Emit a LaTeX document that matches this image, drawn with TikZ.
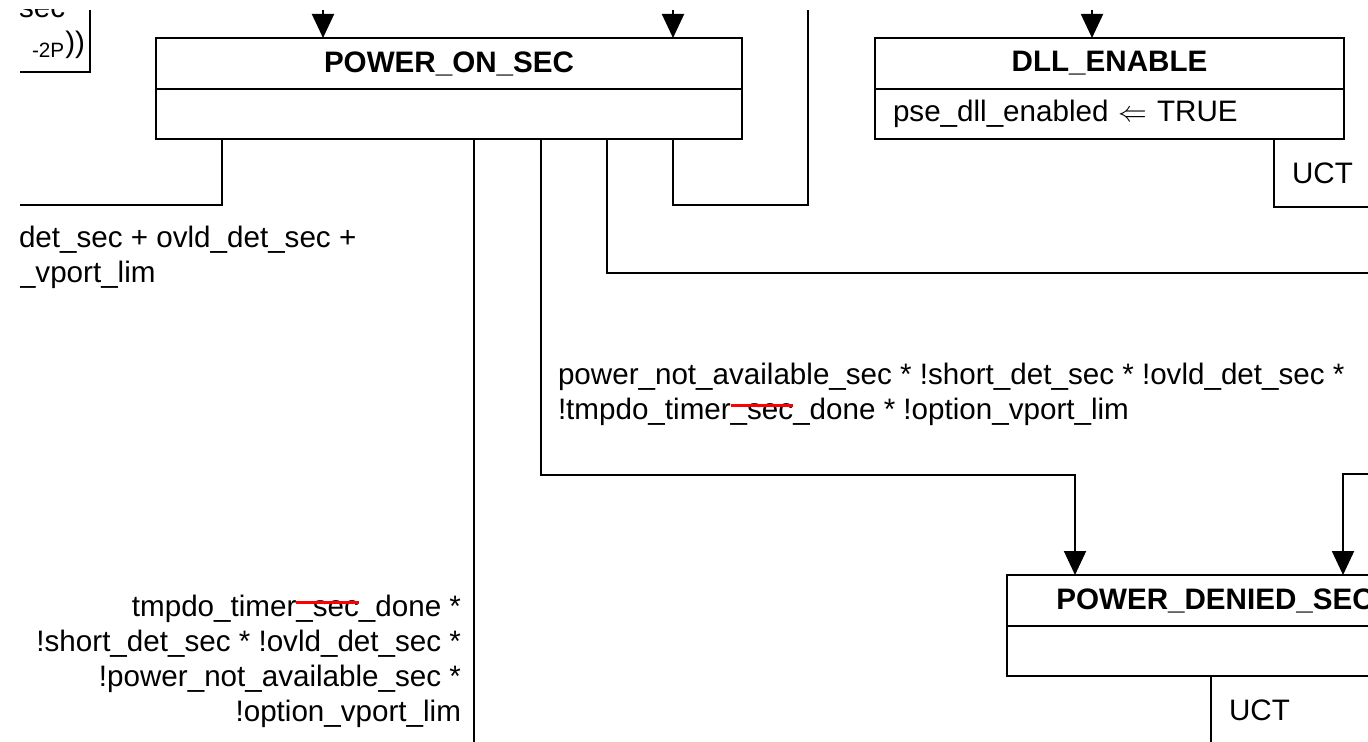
\documentclass[tikz,border=0pt]{standalone}
\usepackage{fontspec}
\setmainfont{Liberation Sans}
\usetikzlibrary{positioning,arrows.meta,calc}

% struck-out part of a signal name
\newsavebox\strkbox
\newcommand\redstrike[1]{\sbox\strkbox{#1}\rlap{\usebox\strkbox}{\color{red}\rule[0.8ex]{\wd\strkbox}{1.4pt}}}

\begin{document}
\begin{tikzpicture}[
  x=0.5pt, y=-0.5pt,
  line width=1pt,
  font=\fontsize{14.8}{17.5}\selectfont,
  state/.style={draw, rectangle, anchor=north west, inner sep=0pt, outer sep=0pt, minimum height=25.5pt, font=\fontsize{14.8}{17.5}\selectfont\bfseries},
  action/.style={draw, rectangle, anchor=north, inner xsep=9pt, inner ysep=0pt, outer sep=0pt, minimum height=25pt, align=left},
  cond/.style={inner sep=0pt},
  arrow/.style={-{Triangle[width=11pt,length=12pt]}}
]
\useasboundingbox (0,0) rectangle (1368,742);
\clip (20,10) rectangle (1368,742);

% States
\node[state, minimum width=293pt] (on) at (156,38) {POWER\_ON\_SEC};
\node[action, text width=275pt] (onbody) at (on.south) {};

\node[state, minimum width=234.5pt] (dll) at (875,38) {DLL\_ENABLE};
\node[action, text width=216.5pt] (dllbody) at (dll.south) {pse\_dll\_enabled $\Leftarrow$ TRUE};

\node[state, minimum width=208pt] (den) at (1007,575) {POWER\_DENIED\_SEC};
\node[action, text width=190pt] (denbody) at (den.south) {};

% State left of POWER_ON_SEC
\draw (20,72) -| (90,10);
\node[cond, anchor=east, align=right] (prev) at (86,28) {sec *\\\textsubscript{-2P}))};

% Free ends
\coordinate (t1) at (323,10);
\coordinate (t2) at (673,10);
\coordinate (t3) at (808,10);
\coordinate (t4) at (1092,10);
\coordinate (l1) at (20,205);
\coordinate (b1) at (474,742);
\coordinate (b2) at (1211,742);
\coordinate (r1) at (1368,273);
\coordinate (r2) at (1368,207);
\coordinate (r3) at (1368,474);

% Arrows in
\draw[arrow] (t1) -- (t1 |- on.north);
\draw[arrow] (t2) -- (t2 |- on.north);
\draw[arrow] (t4) -- (t4 |- dll.north);
\draw[arrow] (r3) -| ([xshift=168pt]den.north west);

% Arrows out of POWER_ON_SEC
\draw ([xshift=33pt]onbody.south west) |- (l1);
\draw ([xshift=159pt]onbody.south west) -- (b1);
\draw[arrow] ([xshift=192.5pt]onbody.south west) -- ++(0,336) -| ([xshift=34pt]den.north west);
\draw ([xshift=225.5pt]onbody.south west) |- (r1);
\draw ([xshift=258.5pt]onbody.south west) -- ++(0,66) -| (t3);

% UCT exits
\draw ([xshift=199.5pt]dllbody.south west) |- (r2);
\draw ([xshift=102pt]denbody.south west) -- (b2);

% Conditions
\node[cond, anchor=west] (uct1) at (1291,173) {UCT};
\node[cond, anchor=west] (uct2) at (1228,710) {UCT};
\node[cond, anchor=west, align=left] (c1) at (18,257) {det\_sec + ovld\_det\_sec +\\\_vport\_lim};
\node[cond, anchor=west, align=left] (c2) at (557,394) {power\_not\_available\_sec * !short\_det\_sec * !ovld\_det\_sec *\\!tmpdo\_timer\redstrike{\_sec}\_done * !option\_vport\_lim};
\node[cond, anchor=east, align=right] (c3) at (462,661) {tmpdo\_timer\redstrike{\_sec}\_done *\\!short\_det\_sec * !ovld\_det\_sec *\\!power\_not\_available\_sec *\\!option\_vport\_lim};

\end{tikzpicture}
\end{document}
